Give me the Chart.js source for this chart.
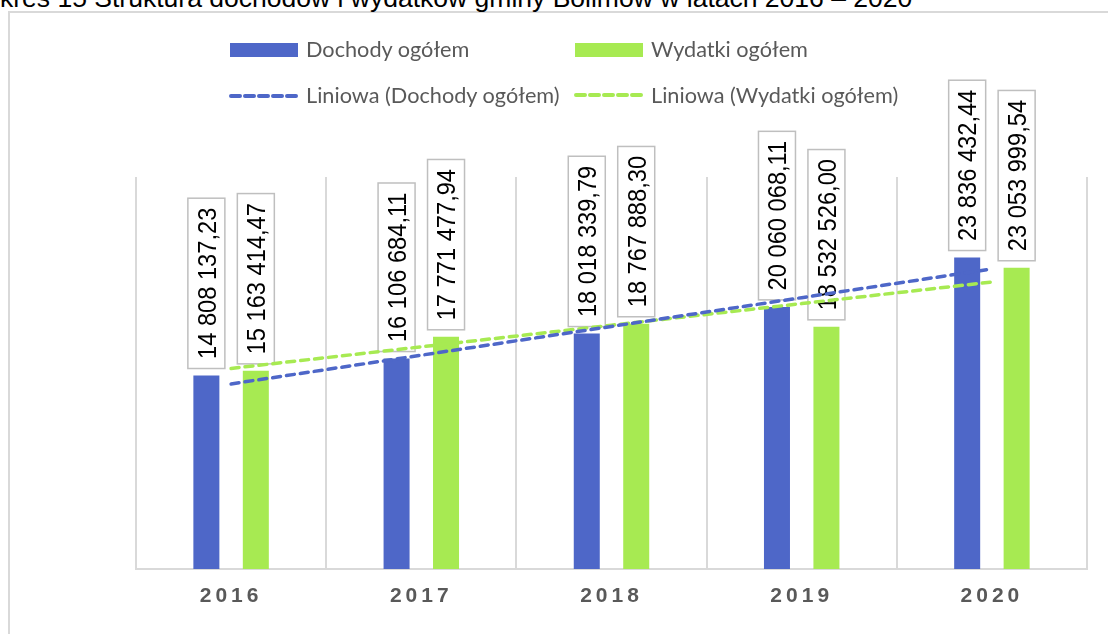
<!DOCTYPE html>
<html><head><meta charset="utf-8">
<script src="https://cdn.jsdelivr.net/npm/chart.js@4.4.1/dist/chart.umd.min.js"></script>
<style>
html,body{margin:0;padding:0;background:#fff;overflow:hidden}
#wrap{position:relative;width:1108px;height:634px;overflow:hidden;background:#fff}
#frame{position:absolute;left:8px;top:11px;width:1200px;height:700px;border:2px solid #D9D9D9}
#title{position:absolute;left:0;top:-13px;white-space:nowrap;font-family:"Liberation Sans",Arial,sans-serif;color:#000;line-height:1;font-size:24px}
#c{position:absolute;left:0;top:0}
.lg{position:absolute;font-family:Lato,sans-serif;font-size:21.7px;line-height:22px;color:#595959;white-space:nowrap}
.box{position:absolute}
</style></head>
<body>
<div id="wrap">
  <div id="frame"></div>
  <div id="title"><span id="tpre">Wy</span><span id="trest">kres 15 Struktura dochodów i wydatków gminy Bolimów w latach 2016 – 2020</span></div>
  <canvas id="c" width="1108" height="634"></canvas>
  <div class="box" style="left:230px;top:43px;width:68px;height:14px;background:#4E67C8"></div>
  <div class="lg" style="left:306px;top:38px">Dochody ogółem</div>
  <div class="box" style="left:575px;top:43px;width:68px;height:14px;background:#A7EA52"></div>
  <div class="lg" style="left:651px;top:38px">Wydatki ogółem</div>
  <svg class="box" style="left:227px;top:90px" width="74" height="12"><line x1="4" y1="6" x2="70" y2="6" stroke="#4E67C8" stroke-width="4" stroke-dasharray="9 5" stroke-linecap="round"/></svg>
  <div class="lg" style="left:306px;top:84px">Liniowa (Dochody ogółem)</div>
  <svg class="box" style="left:572px;top:89px" width="74" height="12"><line x1="4" y1="6" x2="70" y2="6" stroke="#A7EA52" stroke-width="4" stroke-dasharray="9 5" stroke-linecap="round"/></svg>
  <div class="lg" style="left:651px;top:84px">Liniowa (Wydatki ogółem)</div>
</div>
<script>
const years = ['2016', '2017', '2018', '2019', '2020'];
const dochody = [14808137.23, 16106684.11, 18018339.79, 20060068.11, 23836432.44];
const wydatki = [15163414.47, 17771477.94, 18767888.30, 18532526.00, 23053999.54];
const seriesNames = ['Dochody ogółem', 'Wydatki ogółem', 'Liniowa (Dochody ogółem)', 'Liniowa (Wydatki ogółem)'];

// title sizing
(function(){
  const rest = document.getElementById('trest');
  const pre = document.getElementById('tpre');
  const t = document.getElementById('title');
  const w = rest.getBoundingClientRect().width;
  const fs = 24 * 913 / w;
  t.style.fontSize = fs + 'px';
  t.style.left = (-pre.getBoundingClientRect().width) + 'px';
  t.style.top = (7.5 - 0.8465 * fs) + 'px';
})();

function trend(vals){
  const n = vals.length;
  const xs = vals.map((_, i) => i + 1);
  const mx = xs.reduce((a, b) => a + b, 0) / n;
  const my = vals.reduce((a, b) => a + b, 0) / n;
  let sxy = 0, sxx = 0;
  xs.forEach((x, i) => { sxy += (x - mx) * (vals[i] - my); sxx += (x - mx) * (x - mx); });
  const b = sxy / sxx, a = my - b * mx;
  return xs.map(x => a + b * x);
}
function fmt(v){
  const [i, d] = v.toFixed(2).split('.');
  return i.replace(/\B(?=(\d{3})+(?!\d))/g, ' ') + ',' + d;
}

const BLUE = '#4E67C8', GREEN = '#A7EA52';

const labelPlugin = {
  id: 'boxLabels',
  afterDatasetDraw(chart, args){
    const ds = chart.data.datasets[args.index];
    if (ds.type !== 'bar') return;
    const ctx = chart.ctx;
    const fs = 26, sx = 0.91, capH = 0.716 * fs;
    args.meta.data.forEach((bar, i) => {
      const txt = fmt(ds.data[i]);
      ctx.save();
      ctx.letterSpacing = '0px';
      ctx.font = fs + 'px "Liberation Sans", Arial, sans-serif';
      const tw = ctx.measureText(txt).width * sx;
      const boxW = 37, boxH = tw + 19;
      const cx = bar.x, bottom = bar.y - 7;
      ctx.fillStyle = '#fff';
      ctx.strokeStyle = '#BFBFBF';
      ctx.lineWidth = 1.5;
      ctx.fillRect(cx - boxW / 2, bottom - boxH, boxW, boxH);
      ctx.strokeRect(cx - boxW / 2, bottom - boxH, boxW, boxH);
      ctx.translate(cx, bottom - boxH / 2);
      ctx.rotate(-Math.PI / 2);
      ctx.scale(sx, 1);
      ctx.fillStyle = '#000';
      ctx.textAlign = 'center';
      ctx.textBaseline = 'alphabetic';
      ctx.fillText(txt, 0, capH / 2);
      ctx.restore();
    });
  }
};
const spacingPlugin = {
  id: 'spacing',
  beforeDraw(chart){ chart.ctx.letterSpacing = '4px'; },
  beforeDatasetsDraw(chart){ chart.ctx.letterSpacing = '0px'; }
};

new Chart(document.getElementById('c'), {
  data: {
    labels: years,
    datasets: [
      { type: 'bar', label: seriesNames[0], data: dochody, backgroundColor: BLUE, order: 2,
        categoryPercentage: 0.52, barPercentage: 0.526 },
      { type: 'bar', label: seriesNames[1], data: wydatki, backgroundColor: GREEN, order: 2,
        categoryPercentage: 0.52, barPercentage: 0.526 },
      { type: 'line', label: seriesNames[2], data: trend(dochody), borderColor: BLUE, borderWidth: 3.5,
        borderDash: [8, 6], pointRadius: 0, fill: false, order: 1, borderCapStyle: 'round' },
      { type: 'line', label: seriesNames[3], data: trend(wydatki), borderColor: GREEN, borderWidth: 3.5,
        borderDash: [8, 6], pointRadius: 0, fill: false, order: 1, borderCapStyle: 'round' }
    ]
  },
  options: {
    responsive: false,
    animation: false,
    layout: { padding: { left: 136, right: 21, top: 177, bottom: 0 } },
    plugins: { legend: { display: false }, tooltip: { enabled: false } },
    scales: {
      x: {
        offset: true,
        grid: { display: true, offset: true, color: '#D9D9D9', lineWidth: 2, drawTicks: false },
        border: { display: true, color: '#D9D9D9', width: 2 },
        ticks: { color: '#595959', padding: 15, maxRotation: 0,
          font: { family: '"Liberation Sans", Arial, sans-serif', size: 21, weight: 'bold' } },
        afterFit(scale){ scale.height = 65; }
      },
      y: { display: false, min: 0, max: 30000000 }
    }
  },
  plugins: [labelPlugin, spacingPlugin]
});
</script>
</body></html>
